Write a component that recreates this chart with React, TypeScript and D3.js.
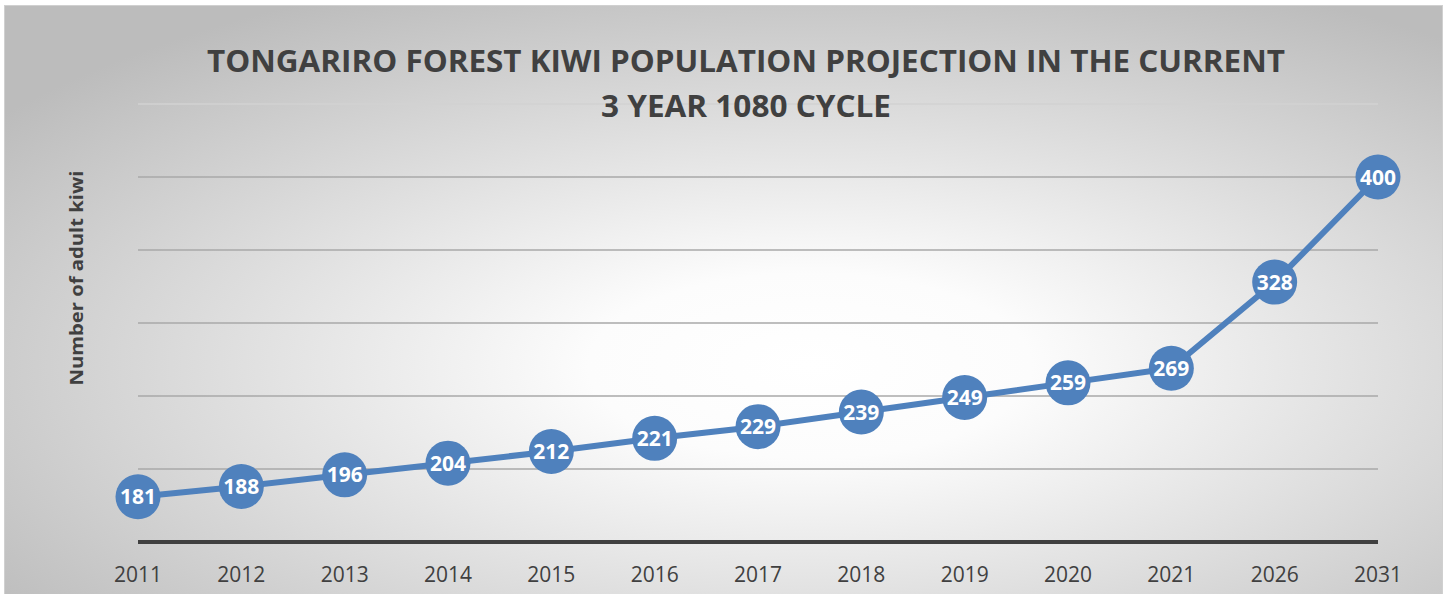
import React from "react";
import * as d3 from "d3";

const categories = ["2011","2012","2013","2014","2015","2016","2017","2018","2019","2020","2021","2026","2031"];
const values = [181,188,196,204,212,221,229,239,249,259,269,328,400];
const gridValues = [200,250,300,350,400,450];
const titleLines = ["TONGARIRO FOREST KIWI POPULATION PROJECTION IN THE CURRENT", "3 YEAR 1080 CYCLE"];
const yTitle = "Number of adult kiwi";

const W = 1447, H = 594;

export default function App() {
  const x = d3.scalePoint<string>().domain(categories).range([138, 1378]);
  const y = d3.scaleLinear().domain([150, 450]).range([542, 104]);
  const pts = categories.map((c, i) => [x(c) as number, y(values[i])] as [number, number]);
  const line = d3.line()(pts) as string;
  const font = "'Open Sans', 'DejaVu Sans', sans-serif";
  return (
    <svg width={W} height={H} style={{ position: "absolute", left: 0, top: 0, background: "#fff" }}>
      <defs>
        <radialGradient id="bg" cx="0.56" cy="0.6" r="0.7">
          <stop offset="0" stopColor="#ffffff" />
          <stop offset="0.22" stopColor="#fcfcfc" />
          <stop offset="1" stopColor="#bcbcbc" />
        </radialGradient>
      </defs>
      <rect x={4.5} y={5.5} width={1438} height={600} fill="url(#bg)" stroke="#d0d0d0" strokeWidth={1} />
      {gridValues.map((v) => (
        <line key={v} x1={x.range()[0]} x2={x.range()[1]} y1={y(v)} y2={y(v)}
          stroke={v === 450 ? "#d2d2d2" : "#a8a8a8"} strokeWidth={1.5} />
      ))}
      <line x1={x.range()[0]} x2={x.range()[1]} y1={y(150)} y2={y(150)} stroke="#404040" strokeWidth={4} />
      {titleLines.map((t, i) => (
        <text key={i} x={746} y={72 + i * 45} textAnchor="middle" fontFamily={font} fontWeight={700}
          fontSize={31} fill="#404040" textLength={i === 0 ? 1078 : 290} lengthAdjust="spacingAndGlyphs">{t}</text>
      ))}
      <text transform={`translate(83,278) rotate(-90)`} textAnchor="middle" fontFamily={font} fontWeight={700}
        fontSize={17} fill="#404040" textLength={215} lengthAdjust="spacingAndGlyphs">{yTitle}</text>
      {categories.map((c) => (
        <text key={c} x={x(c)} y={582} textAnchor="middle" fontFamily={font} fontSize={21} fill="#404040">{c}</text>
      ))}
      <path d={line} fill="none" stroke="#4f81bd" strokeWidth={6} strokeLinejoin="round" />
      {pts.map((p, i) => (
        <g key={i}>
          <circle cx={p[0]} cy={p[1]} r={22.5} fill="#4f81bd" />
          <text x={p[0]} y={p[1] + 7.5} textAnchor="middle" fontFamily={font} fontWeight={700} fontSize={21}
            fill="#ffffff">{values[i]}</text>
        </g>
      ))}
    </svg>
  );
}
